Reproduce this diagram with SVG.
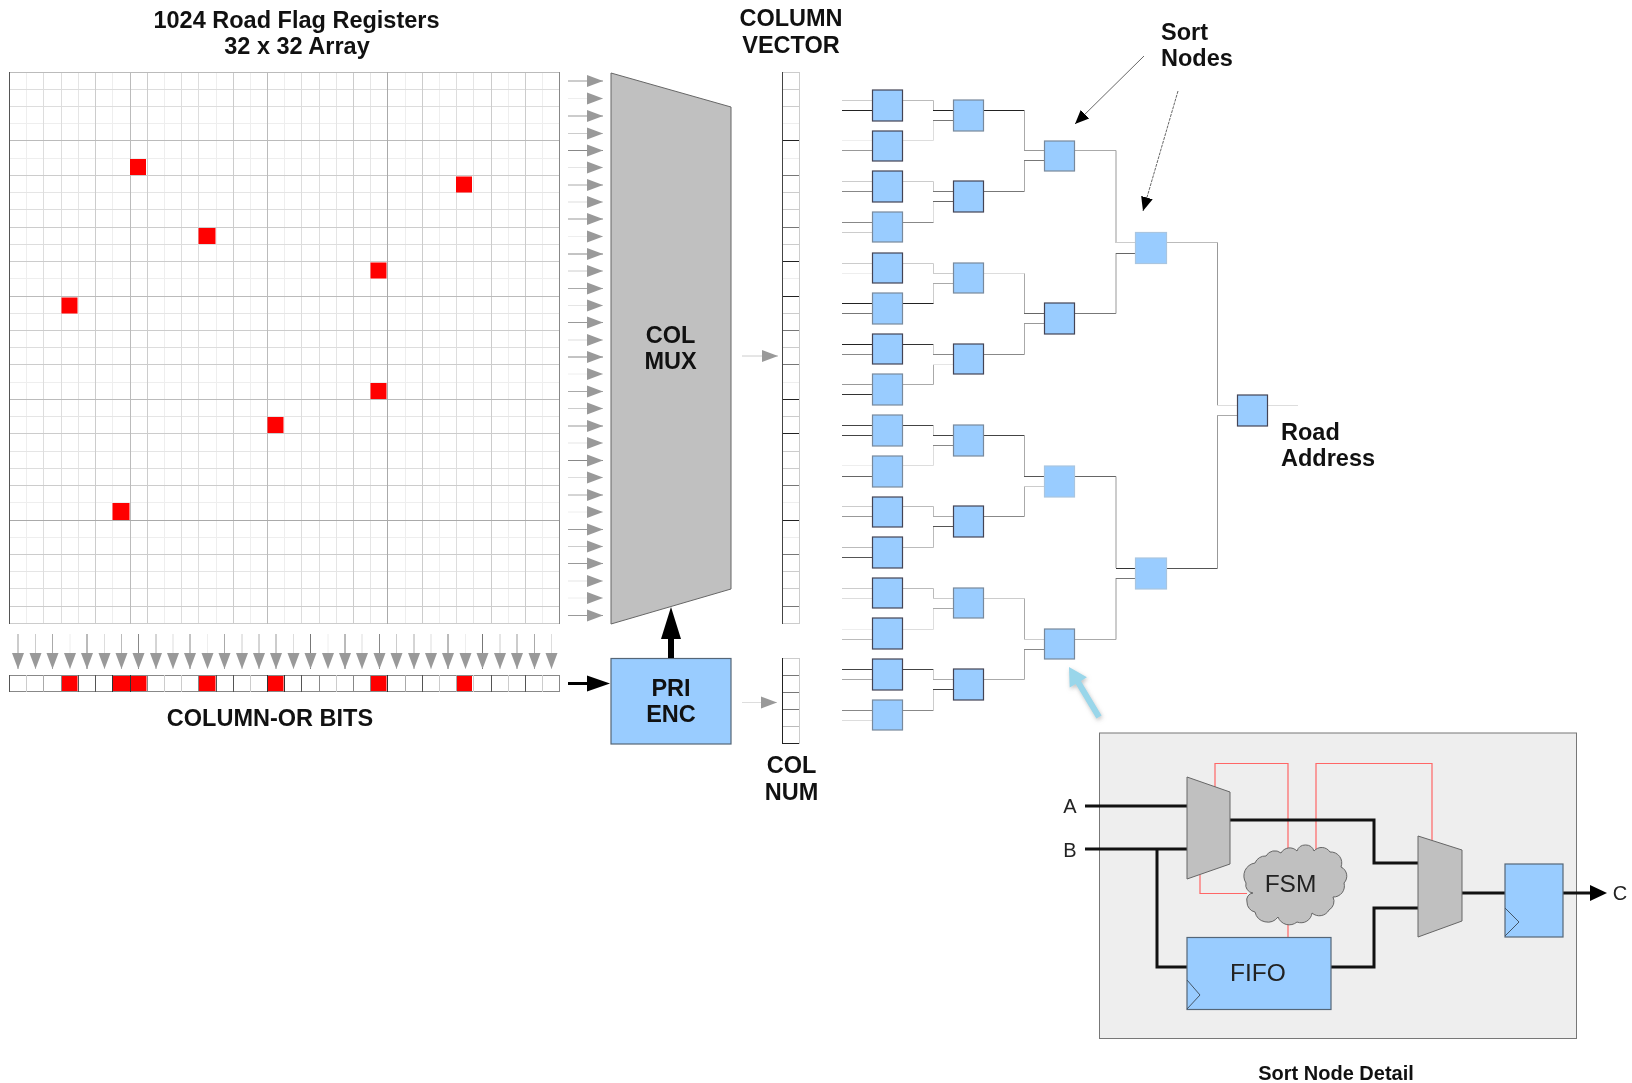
<svg xmlns="http://www.w3.org/2000/svg" width="1632" height="1083" viewBox="0 0 1632 1083">
<style>
text{font-family:"Liberation Sans",Arial,sans-serif;fill:#111}
.lb{font-size:23.5px;font-weight:700;text-anchor:middle}
.ll{font-size:23.5px;font-weight:700}
.dt{font-size:24.5px;text-anchor:middle;fill:#222}
.io{font-size:20px;text-anchor:middle;fill:#222}
path.w,line.w{fill:none;stroke-width:1}
.k2{stroke:#222}.k3{stroke:#333}.k4{stroke:#444}.k5{stroke:#555}.k6{stroke:#666}.k7{stroke:#777}.k8{stroke:#888}.k9{stroke:#999}.ka{stroke:#aaa}.kb{stroke:#bbb}.kc{stroke:#ccc}.kd{stroke:#ddd}.ke{stroke:#e5e5e5}.kf{stroke:#eee}
.red{fill:#f00}
.nd{fill:#9cf;stroke-width:1.2}
.n1{stroke:#445}.n2{stroke:#78899c}.n3{stroke:#a9c5e0}
.mux{fill:#c0c0c0;stroke:#666;stroke-width:1}
.blue{fill:#9cf;stroke:#567;stroke-width:1.2}
.th{fill:none;stroke:#111;stroke-width:3}
.rd{fill:none;stroke:#f66;stroke-width:1.2}
.ck{fill:none;stroke:#456;stroke-width:1}
</style>
<defs>
<marker id="ga" markerUnits="userSpaceOnUse" markerWidth="17" markerHeight="13" refX="16" refY="6.5" orient="auto"><path d="M0 .5L16 6.5L0 12.5z" fill="#999"/></marker>
<marker id="ka" markerUnits="userSpaceOnUse" markerWidth="15" markerHeight="14" refX="14" refY="7" orient="auto"><path d="M0 1L14 7L0 13z" fill="#000"/></marker>
<filter id="sh" x="-30%" y="-30%" width="160%" height="160%"><feDropShadow dx="1" dy="2" stdDeviation="2" flood-color="#999" flood-opacity=".6"/></filter>
<filter id="soft" filterUnits="userSpaceOnUse" x="0" y="0" width="1632" height="1083" color-interpolation-filters="sRGB"><feGaussianBlur stdDeviation="0.45"/></filter>
</defs>
<g filter="url(#soft)">
<g id="grid">
<path class="w kf" d="M9 123.5H560M9 158.5H560M9 278.5H560M9 382.5H560M9 502.5H560M9 537.5H560M26.5 72V624M112.5 72V624M164.5 72V624M216.5 72V624M250.5 72V624M284.5 72V624M405.5 72V624M439.5 72V624M508.5 72V624M542.5 72V624"/>
<path class="w ke" d="M9 192.5H560M9 313.5H560M9 416.5H560M9 451.5H560M9 571.5H560M78.5 72V624M336.5 72V624M370.5 72V624M473.5 72V624"/>
<path class="w kd" d="M9 89.5H560M9 106.5H560M9 209.5H560M9 244.5H560M9 347.5H560M9 468.5H560M9 588.5H560M43.5 72V624M61.5 72V624M181.5 72V624M198.5 72V624M301.5 72V624M319.5 72V624M456.5 72V624"/>
<path class="w kc" d="M9 175.5H560M9 227.5H560M9 261.5H560M9 330.5H560M9 364.5H560M9 433.5H560M9 485.5H560M9 554.5H560M9 606.5H560M9 623.5H560M95.5 72V624M147.5 72V624M233.5 72V624M353.5 72V624M422.5 72V624M491.5 72V624M525.5 72V624"/>
<path class="w kb" d="M9 72.5H560M9 140.5H560M9 296.5H560M9 399.5H560M130.5 72V624M267.5 72V624"/>
<path class="w ka" d="M9 520.5H560M387.5 72V624"/>
<path class="w k8" d="M559.5 72V624"/>
<path class="w k5" d="M9.5 72V624" stroke-width="1.5"/>
<rect class="red" x="130" y="159" width="16" height="16"/>
<rect class="red" x="456" y="176.500" width="16" height="16"/>
<rect class="red" x="198.500" y="228" width="17" height="16"/>
<rect class="red" x="370.500" y="262.500" width="16" height="16"/>
<rect class="red" x="61.500" y="297.500" width="16" height="16"/>
<rect class="red" x="370.500" y="383" width="16" height="16"/>
<rect class="red" x="267.500" y="417" width="16" height="16"/>
<rect class="red" x="112.500" y="503" width="17" height="17"/>
</g>

<g id="column-or-bits">
<rect class="red" x="61.500" y="676" width="16" height="16"/>
<rect class="red" x="112.500" y="676" width="34" height="16"/>
<rect class="red" x="198.500" y="676" width="17" height="16"/>
<rect class="red" x="267.500" y="676" width="16" height="16"/>
<rect class="red" x="370.500" y="676" width="16" height="16"/>
<rect class="red" x="456" y="676" width="16" height="16"/>
<path class="w k8" d="M9 675.5H560M9 691.5H560M61.5 675V692M147.5 675V692M198.5 675V692M319.5 675V692M353.5 675V692M370.5 675V692M559.5 675V692"/>
<path class="w k5" d="M9.5 675V692M78.5 675V692M95.5 675V692M216.5 675V692M233.5 675V692M301.5 675V692M422.5 675V692M491.5 675V692M525.5 675V692"/>
<path class="w k3" d="M130.5 675V692M267.5 675V692M284.5 675V692M387.5 675V692M112.5 675V692"/>
<path class="w kc" d="M26.5 675V692M164.5 675V692M181.5 675V692M250.5 675V692M336.5 675V692M439.5 675V692M473.5 675V692M508.5 675V692M542.5 675V692"/>
<path class="w ka" d="M43.5 675V692M405.5 675V692M456.5 675V692"/>
</g>

<g id="col-mux"><polygon class="mux" points="611,73 731,107 731,589 611,624"/><text class="lb" x="670.500" y="343">COL</text><text class="lb" x="670.500" y="369">MUX</text></g>
<g id="pri-enc"><rect class="blue" x="611" y="658.500" width="120" height="85.500"/><text class="lb" x="671" y="696">PRI</text><text class="lb" x="671" y="722">ENC</text></g>

<g id="column-vector">
<rect x="782.5" y="72.5" width="17" height="551" fill="#fff" stroke="#ccc"/>
<path class="w kf" d="M782 123.5H799M782 158.5H799M782 278.5H799M782 382.5H799M782 502.5H799M782 537.5H799"/>
<path class="w kc" d="M782 89.5H799M782 106.5H799M782 192.5H799M782 313.5H799M782 416.5H799M782 451.5H799M782 571.5H799M782 209.5H799M782 244.5H799M782 347.5H799M782 468.5H799M782 588.5H799"/>
<path class="w k7" d="M782 175.5H799M782 227.5H799M782 330.5H799M782 364.5H799M782 485.5H799M782 554.5H799M782 606.5H799"/>
<path class="w k2" d="M782 140.5H799M782 261.5H799M782 296.5H799M782 399.5H799M782 433.5H799M782 520.5H799"/>
<path class="w k4" d="M782.5 72V624"/>
</g>
<g id="col-num">
<rect x="782.5" y="658.5" width="17" height="85" fill="#fff" stroke="#ccc"/>
<path class="w k7" d="M782 675.5H799M782 692.5H799M782 709.5H799"/>
<path class="w kb" d="M782 726.5H799"/>
<path class="w k2" d="M782.5 658V744M782 743.5H799"/>
</g>

<g id="connectors">
<g id="row-arrows">
<line class="w k9" x1="568" y1="81" x2="603" y2="81" marker-end="url(#ga)"/>
<line class="w kf" x1="568" y1="98.500" x2="603" y2="98.500" marker-end="url(#ga)"/>
<line class="w k9" x1="568" y1="116" x2="603" y2="116" marker-end="url(#ga)"/>
<line class="w kc" x1="568" y1="133.500" x2="603" y2="133.500" marker-end="url(#ga)"/>
<line class="w k8" x1="568" y1="150.500" x2="603" y2="150.500" marker-end="url(#ga)"/>
<line class="w ke" x1="568" y1="167.500" x2="603" y2="167.500" marker-end="url(#ga)"/>
<line class="w ka" x1="568" y1="185" x2="603" y2="185" marker-end="url(#ga)"/>
<line class="w kd" x1="568" y1="202" x2="603" y2="202" marker-end="url(#ga)"/>
<line class="w k9" x1="568" y1="219" x2="603" y2="219" marker-end="url(#ga)"/>
<line class="w kf" x1="568" y1="236.500" x2="603" y2="236.500" marker-end="url(#ga)"/>
<line class="w k8" x1="568" y1="254" x2="603" y2="254" marker-end="url(#ga)"/>
<line class="w kc" x1="568" y1="271" x2="603" y2="271" marker-end="url(#ga)"/>
<line class="w ka" x1="568" y1="288.500" x2="603" y2="288.500" marker-end="url(#ga)"/>
<line class="w ke" x1="568" y1="305.500" x2="603" y2="305.500" marker-end="url(#ga)"/>
<line class="w k9" x1="568" y1="322.500" x2="603" y2="322.500" marker-end="url(#ga)"/>
<line class="w kd" x1="568" y1="340" x2="603" y2="340" marker-end="url(#ga)"/>
<line class="w k8" x1="568" y1="357" x2="603" y2="357" marker-end="url(#ga)"/>
<line class="w kf" x1="568" y1="374" x2="603" y2="374" marker-end="url(#ga)"/>
<line class="w ka" x1="568" y1="391.500" x2="603" y2="391.500" marker-end="url(#ga)"/>
<line class="w kc" x1="568" y1="408.500" x2="603" y2="408.500" marker-end="url(#ga)"/>
<line class="w k9" x1="568" y1="426" x2="603" y2="426" marker-end="url(#ga)"/>
<line class="w ke" x1="568" y1="443" x2="603" y2="443" marker-end="url(#ga)"/>
<line class="w k8" x1="568" y1="460.500" x2="603" y2="460.500" marker-end="url(#ga)"/>
<line class="w kd" x1="568" y1="477.500" x2="603" y2="477.500" marker-end="url(#ga)"/>
<line class="w ka" x1="568" y1="495" x2="603" y2="495" marker-end="url(#ga)"/>
<line class="w kf" x1="568" y1="512" x2="603" y2="512" marker-end="url(#ga)"/>
<line class="w k9" x1="568" y1="529.500" x2="603" y2="529.500" marker-end="url(#ga)"/>
<line class="w kc" x1="568" y1="546.500" x2="603" y2="546.500" marker-end="url(#ga)"/>
<line class="w k9" x1="568" y1="563.500" x2="603" y2="563.500" marker-end="url(#ga)"/>
<line class="w ke" x1="568" y1="581" x2="603" y2="581" marker-end="url(#ga)"/>
<line class="w kf" x1="568" y1="598" x2="603" y2="598" marker-end="url(#ga)"/>
<line class="w k9" x1="568" y1="615.500" x2="603" y2="615.500" marker-end="url(#ga)"/>
</g>
<g id="col-arrows">
<line class="w k9" x1="18" y1="634" x2="18" y2="669" marker-end="url(#ga)"/>
<line class="w kc" x1="35.500" y1="634" x2="35.500" y2="669" marker-end="url(#ga)"/>
<line class="w ka" x1="52.500" y1="634" x2="52.500" y2="669" marker-end="url(#ga)"/>
<line class="w kf" x1="70" y1="634" x2="70" y2="669" marker-end="url(#ga)"/>
<line class="w k7" x1="87" y1="634" x2="87" y2="669" marker-end="url(#ga)"/>
<line class="w kd" x1="104.500" y1="634" x2="104.500" y2="669" marker-end="url(#ga)"/>
<line class="w kb" x1="121.500" y1="634" x2="121.500" y2="669" marker-end="url(#ga)"/>
<line class="w k8" x1="138.500" y1="634" x2="138.500" y2="669" marker-end="url(#ga)"/>
<line class="w ka" x1="156" y1="634" x2="156" y2="669" marker-end="url(#ga)"/>
<line class="w kd" x1="173" y1="634" x2="173" y2="669" marker-end="url(#ga)"/>
<line class="w k8" x1="190" y1="634" x2="190" y2="669" marker-end="url(#ga)"/>
<line class="w kf" x1="207.500" y1="634" x2="207.500" y2="669" marker-end="url(#ga)"/>
<line class="w ka" x1="224.500" y1="634" x2="224.500" y2="669" marker-end="url(#ga)"/>
<line class="w kc" x1="242" y1="634" x2="242" y2="669" marker-end="url(#ga)"/>
<line class="w ka" x1="259" y1="634" x2="259" y2="669" marker-end="url(#ga)"/>
<line class="w k9" x1="276" y1="634" x2="276" y2="669" marker-end="url(#ga)"/>
<line class="w kd" x1="293.500" y1="634" x2="293.500" y2="669" marker-end="url(#ga)"/>
<line class="w k7" x1="310.500" y1="634" x2="310.500" y2="669" marker-end="url(#ga)"/>
<line class="w kf" x1="328" y1="634" x2="328" y2="669" marker-end="url(#ga)"/>
<line class="w k7" x1="345" y1="634" x2="345" y2="669" marker-end="url(#ga)"/>
<line class="w kd" x1="362" y1="634" x2="362" y2="669" marker-end="url(#ga)"/>
<line class="w k8" x1="379.500" y1="634" x2="379.500" y2="669" marker-end="url(#ga)"/>
<line class="w kc" x1="396.500" y1="634" x2="396.500" y2="669" marker-end="url(#ga)"/>
<line class="w ka" x1="414" y1="634" x2="414" y2="669" marker-end="url(#ga)"/>
<line class="w kd" x1="431" y1="634" x2="431" y2="669" marker-end="url(#ga)"/>
<line class="w k7" x1="448" y1="634" x2="448" y2="669" marker-end="url(#ga)"/>
<line class="w kf" x1="465.500" y1="634" x2="465.500" y2="669" marker-end="url(#ga)"/>
<line class="w k7" x1="482.500" y1="634" x2="482.500" y2="669" marker-end="url(#ga)"/>
<line class="w kc" x1="500" y1="634" x2="500" y2="669" marker-end="url(#ga)"/>
<line class="w k9" x1="517" y1="634" x2="517" y2="669" marker-end="url(#ga)"/>
<line class="w ka" x1="534.500" y1="634" x2="534.500" y2="669" marker-end="url(#ga)"/>
<line class="w kd" x1="551.500" y1="634" x2="551.500" y2="669" marker-end="url(#ga)"/>
</g>
<line class="w kc" x1="742" y1="356" x2="778" y2="356" marker-end="url(#ga)"/>
<line class="w kd" x1="742" y1="702.500" x2="777" y2="702.500" marker-end="url(#ga)"/>
<path d="M568 683.500H588" stroke="#000" stroke-width="3"/><polygon points="587,675.500 610,683.500 587,691.500" fill="#000"/>
<path d="M671 658V636" stroke="#000" stroke-width="6"/><polygon points="671,607 681,639 661,639" fill="#000"/>
<line class="w k6" x1="1144" y1="56" x2="1075" y2="124" marker-end="url(#ka)"/>
<line class="w k6" x1="1178" y1="91" x2="1143" y2="211" stroke-dasharray="3 1" marker-end="url(#ka)"/>
<polygon points="1069,667 1086.9,677.3 1080.9,680.9 1101.6,715.5 1096.4,718.5 1075.7,684 1069.7,687.5" fill="#99d6ea" filter="url(#sh)"/>
<g id="tree-wires">
<path class="w kc" d="M842 100.5H872"/><path class="w k2" d="M842 110.5H872"/>
<path class="w kf" d="M842 140.5H872"/><path class="w k9" d="M842 150.5H872"/>
<path class="w kc" d="M842 181.5H872"/><path class="w k8" d="M842 191.5H872"/>
<path class="w k8" d="M842 222.5H872"/><path class="w kc" d="M842 232.5H872"/>
<path class="w kc" d="M842 263.5H872"/><path class="w kf" d="M842 273.5H872"/>
<path class="w k2" d="M842 303.5H872"/><path class="w k7" d="M842 313.5H872"/>
<path class="w k2" d="M842 344.5H872"/><path class="w k8" d="M842 354.5H872"/>
<path class="w k9" d="M842 384.5H872"/><path class="w k3" d="M842 394.5H872"/>
<path class="w k4" d="M842 425.5H872"/><path class="w k4" d="M842 435.5H872"/>
<path class="w kf" d="M842 465.5H872"/><path class="w k6" d="M842 476.5H872"/>
<path class="w kc" d="M842 506.5H872"/><path class="w k9" d="M842 516.5H872"/>
<path class="w kb" d="M842 547.5H872"/><path class="w k5" d="M842 557.5H872"/>
<path class="w kc" d="M842 588.5H872"/><path class="w kd" d="M842 598.5H872"/>
<path class="w kf" d="M842 629.5H872"/><path class="w kb" d="M842 639.5H872"/>
<path class="w k4" d="M842 669.5H872"/><path class="w ka" d="M842 679.5H872"/>
<path class="w k8" d="M842 710.5H872"/><path class="w kd" d="M842 720.5H872"/>

<path class="w kb" d="M902 100.5H933.5V110.5"/><path class="w kd" d="M902 140.5H933.5V120.5"/>
<path class="w kc" d="M902 181.5H933.5V191.5"/><path class="w kd" d="M933.5 201.5V222.5"/><path class="w k8" d="M902 222.5H933.5"/>
<path class="w kc" d="M902 263.5H933.5V273.5"/><path class="w kc" d="M933.5 283.5V303.5"/><path class="w k2" d="M902 303.5H933.5"/>
<path class="w k3" d="M902 344.5H933.5"/><path class="w kc" d="M933.5 344.5V354.5"/><path class="w ka" d="M902 384.5H933.5V364.5"/>
<path class="w k4" d="M902 425.5H933.5"/><path class="w kc" d="M933.5 425.5V435.5"/><path class="w kd" d="M902 465.5H933.5V445.5"/>
<path class="w kb" d="M902 506.5H933.5V516.5"/><path class="w kb" d="M902 547.5H933.5V526.5"/>
<path class="w kb" d="M902 588.5H933.5V598.5"/><path class="w kd" d="M902 629.5H933.5V608.5"/>
<path class="w k4" d="M902 669.5H933.5"/><path class="w kc" d="M933.5 669.5V679.5"/><path class="w k8" d="M902 710.5H933.5"/><path class="w kc" d="M933.5 710.5V689.5"/>

<path class="w k2" d="M933 110.5H953"/><path class="w k7" d="M933 120.5H953"/>
<path class="w k7" d="M933 191.5H953"/><path class="w k6" d="M933 201.5H953"/>
<path class="w kc" d="M933 273.5H953"/><path class="w ka" d="M933 283.5H953"/>
<path class="w k8" d="M933 354.5H953"/><path class="w ke" d="M933 364.5H953"/>
<path class="w k4" d="M933 435.5H953"/><path class="w k8" d="M933 445.5H953"/>
<path class="w ka" d="M933 516.5H953"/><path class="w k5" d="M933 526.5H953"/>
<path class="w kc" d="M933 598.5H953"/><path class="w ka" d="M933 608.5H953"/>
<path class="w ka" d="M933 679.5H953"/><path class="w k4" d="M933 689.5H953"/>

<path class="w k2" d="M984 110.5H1024.5"/><path class="w k7" d="M984 191.5H1024.5"/>
<path class="w kd" d="M984 273.5H1024.5"/><path class="w k8" d="M984 354.5H1024.5"/>
<path class="w k4" d="M984 435.5H1024.5"/><path class="w k8" d="M984 516.5H1024.5"/>
<path class="w kc" d="M984 598.5H1024.5"/><path class="w ka" d="M984 679.5H1024.5"/>
<path class="w ka" d="M1024.5 110.5V150.5M1024.5 191.5V160.5M1024.5 273.5V313.5M1024.5 354.5V323.5M1024.5 435.5V476.5M1024.5 516.5V486.5M1024.5 598.5V639.5M1024.5 679.5V649.5"/>
<path class="w k9" d="M1024 150.5H1044"/><path class="w k7" d="M1024 160.5H1044"/>
<path class="w k6" d="M1024 313.5H1044"/><path class="w k9" d="M1024 323.5H1044"/>
<path class="w k5" d="M1024 476.5H1044"/><path class="w kc" d="M1024 486.5H1044"/>
<path class="w kc" d="M1024 639.5H1044"/><path class="w k8" d="M1024 649.5H1044"/>

<path class="w ka" d="M1075 150.5H1116"/><path class="w k7" d="M1075 313.5H1116"/>
<path class="w k6" d="M1075 476.5H1116"/><path class="w ka" d="M1075 639.5H1116"/>
<path class="w k9" d="M1116 150.5V243M1116 313.5V253M1116 476.5V568M1116 639.5V578"/>
<path class="w kc" d="M1116 242.5H1135"/><path class="w k6" d="M1116 253.5H1135"/>
<path class="w k3" d="M1116 568.5H1135"/><path class="w k7" d="M1116 578.5H1135"/>

<path class="w kb" d="M1167 242.5H1217.5"/><path class="w k5" d="M1167 568.5H1217.5"/>
<path class="w k9" d="M1217.5 242.5V405M1217.5 568.5V415"/>
<path class="w kd" d="M1217 405.5H1237"/><path class="w ka" d="M1217 415.5H1237"/>
<path class="w kd" d="M1268 405.5H1298"/>
</g>
</g>

<g id="sort-tree">
<g id="L1"><rect class="nd n1" x="872.5" y="90" width="30" height="31"/></g>
<g id="L2"><rect class="nd n1" x="872.5" y="131" width="30" height="30"/></g>
<g id="L3"><rect class="nd n1" x="872.5" y="171" width="30" height="31"/></g>
<g id="L4"><rect class="nd n2" x="872.5" y="212" width="30" height="30"/></g>
<g id="L5"><rect class="nd n1" x="872.5" y="253" width="30" height="30"/></g>
<g id="L6"><rect class="nd n2" x="872.5" y="293" width="30" height="31"/></g>
<g id="L7"><rect class="nd n1" x="872.5" y="334" width="30" height="30"/></g>
<g id="L8"><rect class="nd n2" x="872.5" y="374" width="30" height="31"/></g>
<g id="L9"><rect class="nd n2" x="872.5" y="415" width="30" height="31"/></g>
<g id="L10"><rect class="nd n2" x="872.5" y="456" width="30" height="31"/></g>
<g id="L11"><rect class="nd n1" x="872.5" y="497" width="30" height="30"/></g>
<g id="L12"><rect class="nd n1" x="872.5" y="537" width="30" height="31"/></g>
<g id="L13"><rect class="nd n1" x="872.5" y="578" width="30" height="30"/></g>
<g id="L14"><rect class="nd n1" x="872.5" y="618" width="30" height="31"/></g>
<g id="L15"><rect class="nd n1" x="872.5" y="659" width="30" height="31"/></g>
<g id="L16"><rect class="nd n2" x="872.5" y="700" width="30" height="30"/></g>
<g id="M1"><rect class="nd n2" x="953.5" y="100" width="30" height="31"/></g>
<g id="M2"><rect class="nd n1" x="953.5" y="181" width="30" height="31"/></g>
<g id="M3"><rect class="nd n2" x="953.5" y="263" width="30" height="30"/></g>
<g id="M4"><rect class="nd n1" x="953.5" y="344" width="30" height="30"/></g>
<g id="M5"><rect class="nd n2" x="953.5" y="425" width="30" height="31"/></g>
<g id="M6"><rect class="nd n1" x="953.5" y="506" width="30" height="31"/></g>
<g id="M7"><rect class="nd n2" x="953.5" y="588" width="30" height="30"/></g>
<g id="M8"><rect class="nd n1" x="953.5" y="669" width="30" height="31"/></g>
<g id="T1"><rect class="nd n2" x="1044.5" y="141" width="30" height="30"/></g>
<g id="T2"><rect class="nd n1" x="1044.5" y="303" width="30" height="31"/></g>
<g id="T3"><rect class="nd n3" x="1044.5" y="466" width="30" height="31"/></g>
<g id="T4"><rect class="nd n2" x="1044.5" y="629" width="30" height="30"/></g>
<g id="Q1"><rect class="nd n3" x="1135.5" y="232.500" width="31" height="31"/></g>
<g id="Q2"><rect class="nd n3" x="1135.5" y="558" width="31" height="31"/></g>
<g id="R"><rect class="nd n1" x="1237.5" y="395" width="30" height="31"/></g>
</g>

<g id="sort-node-detail">
<rect x="1099.5" y="733" width="477" height="305.500" fill="#eee" stroke="#777" stroke-width="1"/>
<path class="rd" d="M1215 792V763.5H1288V851M1316 851V763.5H1432V853M1200 875V893.5H1247M1288 920V938"/>
<path class="th" d="M1085 806H1187M1085 849H1187M1157 849V967H1187M1230 820H1374V863H1418M1331 967H1374V908H1418M1462 893H1505M1563 893H1590"/>
<polygon points="1590,885 1607,893 1590,901" fill="#000"/>
<g id="mux-a"><polygon class="mux" points="1187,777 1230,792 1230,864 1187,879"/></g>
<g id="mux-b"><polygon class="mux" points="1418,836 1462,850 1462,921 1418,937"/></g>
<g id="fsm"><path d="M1246 883A13 13 0 0 1 1255 863A11 11 0 0 1 1266 856A10 10 0 0 1 1281 853A10 10 0 0 1 1297 851A9 9 0 0 1 1314 851A10 10 0 0 1 1330 852A11 11 0 0 1 1341 867A10 10 0 0 1 1344 883A11 11 0 0 1 1333 897A10 10 0 0 1 1329 910A11 11 0 0 1 1312 913A11 11 0 0 1 1297 922A12 12 0 0 1 1278 917A13 13 0 0 1 1255 912A10 10 0 0 1 1247 902A7 7 0 0 1 1253 893A8 8 0 0 1 1246 883Z" fill="#c0c0c0" stroke="#666" stroke-width="1"/><text class="dt" x="1290.500" y="892">FSM</text></g>
<g id="fifo"><rect class="blue" x="1187" y="937.500" width="144" height="72"/><path class="ck" d="M1187 980L1200 995L1187 1009"/><text class="dt" x="1258" y="981">FIFO</text></g>
<g id="ff"><rect class="blue" x="1505" y="864" width="58" height="73"/><path class="ck" d="M1505 908L1519 922L1505 936"/></g>
<text class="io" x="1070" y="813">A</text>
<text class="io" x="1070" y="857">B</text>
<text class="io" x="1620" y="900">C</text>
</g>

<g id="labels">
<text class="lb" x="296.500" y="28">1024 Road Flag Registers</text>
<text class="lb" x="297" y="54">32 x 32 Array</text>
<text class="lb" x="791" y="26">COLUMN</text>
<text class="lb" x="791" y="52.500">VECTOR</text>
<text class="ll" x="1161" y="40">Sort</text>
<text class="ll" x="1161" y="66">Nodes</text>
<text class="lb" x="270" y="726">COLUMN-OR BITS</text>
<text class="lb" x="791.500" y="773">COL</text>
<text class="lb" x="791.500" y="800">NUM</text>
<text class="ll" x="1281" y="440">Road</text>
<text class="ll" x="1281" y="466">Address</text>
<text x="1336" y="1080" font-size="20" font-weight="700" text-anchor="middle">Sort Node Detail</text>
</g>
</g>
</svg>
